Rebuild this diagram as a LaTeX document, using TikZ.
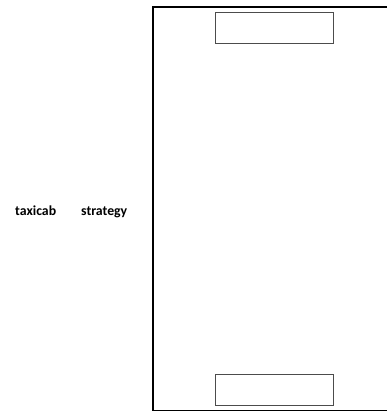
\documentclass[tikz,border=0pt]{standalone}
\usepackage{fontspec}
\setmainfont{Carlito}
\usetikzlibrary{positioning}

\begin{document}
\begin{tikzpicture}[x=1pt,y=-1pt,
  box/.style={draw=black!70,line width=1pt,minimum width=118pt,minimum height=31pt,inner sep=0pt},
  frame/.style={draw=black,line width=1.2pt},
  lab/.style={font=\fontsize{13.8}{16}\selectfont\bfseries,inner sep=0pt,anchor=base west}]
\useasboundingbox (0,0) rectangle (386,412);
\coordinate (ftr) at (390,7);
\coordinate (ftl) at (153,7);
\coordinate (fbl) at (153,410.5);
\coordinate (fbr) at (390,410.5);
\draw[frame] (ftr) -- (ftl) -- (fbl) -- (fbr);
\node[box] (top) at (274,28.5) {};
\node[box] (bot) at (274,390) {};
\node[lab] (taxi) at (15,215) {taxicab};
\node[lab] (strat) at (81,215) {strategy};
\end{tikzpicture}
\end{document}
